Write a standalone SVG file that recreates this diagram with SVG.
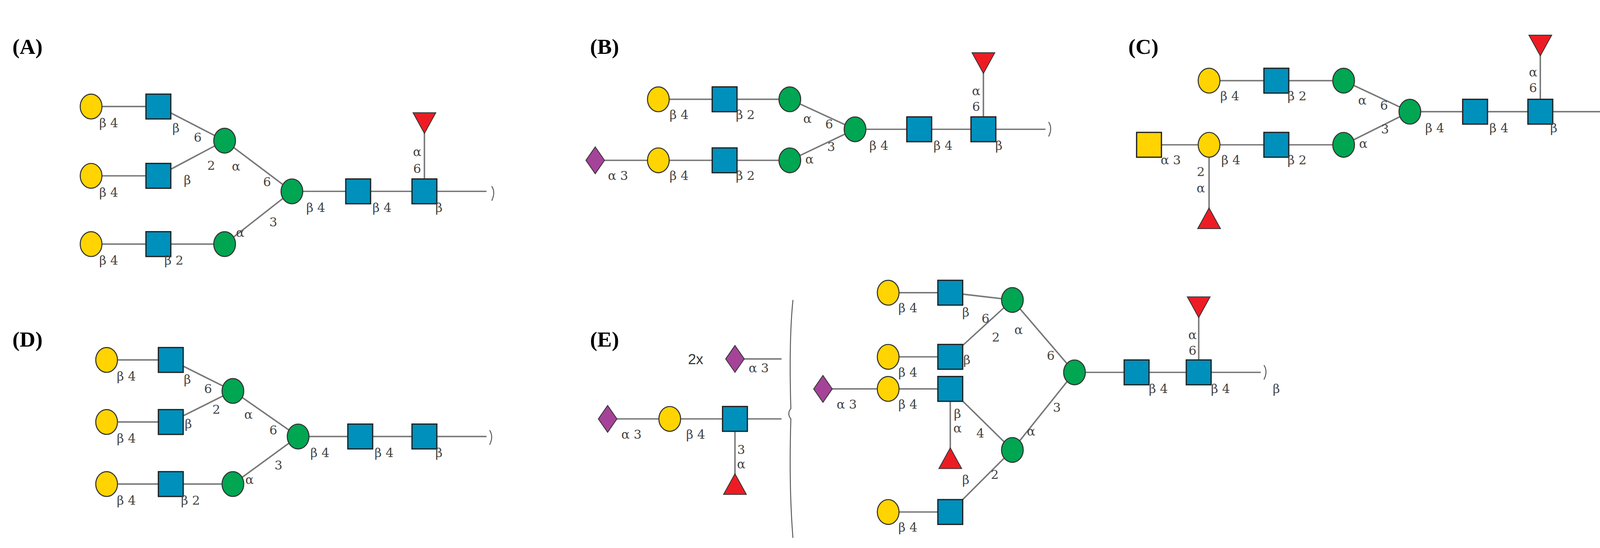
<svg xmlns="http://www.w3.org/2000/svg" xmlns:xlink="http://www.w3.org/1999/xlink" width="4155" height="1404" viewBox="0 0 4155 1404">
<style>
.l{font-family:"DejaVu Serif","Liberation Serif",serif;font-size:12px;fill:#444;text-anchor:middle}
.p{font-family:"Liberation Serif",serif;font-size:21px;font-weight:bold;fill:#000}
.c path,.c line{stroke:#777;stroke-width:1.4;fill:none}
.br{stroke:#555;stroke-width:0.9;fill:none}
</style>
<defs>
<ellipse id="gal" cx="0" cy="0" rx="10.5" ry="12" fill="#FFD400" stroke="#333" stroke-width="1"/>
<ellipse id="man" cx="0" cy="0" rx="10.5" ry="12" fill="#00A651" stroke="#333" stroke-width="1"/>
<rect id="gn" x="-12" y="-12" width="24" height="24" fill="#0090BC" stroke="#222" stroke-width="1.2"/>
<rect id="ga" x="-12" y="-12" width="24" height="24" fill="#FFD400" stroke="#222" stroke-width="1.2"/>
<polygon id="fd" points="-11,-11 11,-11 0,9" fill="#ED1C24" stroke="#333" stroke-width="0.8"/>
<polygon id="fu" points="-11,11 11,11 0,-9" fill="#ED1C24" stroke="#333" stroke-width="0.8"/>
<polygon id="na" points="0,-13 9,0 0,13 -9,0" fill="#A54399" stroke="#333" stroke-width="0.8"/>
</defs>
<rect width="4155" height="1404" fill="#fff"/>
<g transform="scale(2.65)">
<g class="c" id="connectors">
<!-- A -->
<path d="M88 103H153M88 170H153M88 236H217M153 103L217 136M153 170L217 136M217 136L282 185M217 236L282 185M282 185H470M410 185V120"/>
<!-- B -->
<path d="M636 96H763M763 96L826 125M575 155H763M763 155L826 125M826 125H1010M950 125V62"/>
<!-- C -->
<path d="M1168 78H1298M1298 78L1362 108M1110 140H1298M1298 140L1362 108M1362 108H1550M1488 108V45M1168 140V208"/>
<!-- D -->
<path d="M103 348H165M103 408H165M103 468H225M165 348L225 378M165 408L225 378M225 378L288 422M225 468L288 422M288 422H470"/>
<!-- E -->
<path d="M710 347H755M587 405H755M710 405V465"/>
<path d="M858 283H918M858 345H918M795 376H918M858 495H918M918 283L978 290M918 345L978 290M978 290L1038 360M918 376L978 435M918 495L978 435M978 435L1038 360M1038 360H1218M1158 360V298M918 376V440"/>
</g>
<path class="br" d="M475 180q4 6 0 14M1013 118q4 6 0 14M1553 101q4 6 0 14M473 416q4 6 0 14M1221 353q4 6 0 14"/>
<path class="br" d="M766 290Q762 330 764 395Q760 400 764 405Q762 470 766 520"/>
<text class="p" x="12" y="52">(A)</text>
<text class="p" x="570" y="52">(B)</text>
<text class="p" x="1090" y="52">(C)</text>
<text class="p" x="12" y="335">(D)</text>
<text class="p" x="570" y="335">(E)</text>
<!-- A nodes -->
<g id="A-gal1"><use href="#gal" x="88" y="103"/></g>
<g id="A-gal2"><use href="#gal" x="88" y="170"/></g>
<g id="A-gal3"><use href="#gal" x="88" y="236"/></g>
<g id="A-gn1"><use href="#gn" x="153" y="103"/></g>
<g id="A-gn2"><use href="#gn" x="153" y="170"/></g>
<g id="A-gn3"><use href="#gn" x="153" y="236"/></g>
<g id="A-man1"><use href="#man" x="217" y="136"/></g>
<g id="A-man2"><use href="#man" x="217" y="236"/></g>
<g id="A-man3"><use href="#man" x="282" y="185"/></g>
<g id="A-gn4"><use href="#gn" x="346" y="185"/></g>
<g id="A-gn5"><use href="#gn" x="410" y="185"/></g>
<g id="A-fuc"><use href="#fd" x="410" y="120"/></g>
<g id="A-labels">
<text class="l" x="105" y="123">β 4</text><text class="l" x="105" y="190">β 4</text><text class="l" x="105" y="256">β 4</text>
<text class="l" x="168" y="256">β 2</text>
<text class="l" x="170" y="128">β</text><text class="l" x="191" y="137">6</text>
<text class="l" x="204" y="164">2</text><text class="l" x="181" y="178">β</text>
<text class="l" x="228" y="165">α</text><text class="l" x="258" y="180">6</text>
<text class="l" x="264" y="219">3</text><text class="l" x="232" y="229">α</text>
<text class="l" x="305" y="205">β 4</text><text class="l" x="369" y="205">β 4</text><text class="l" x="424" y="205">β</text>
<text class="l" x="403" y="151">α</text><text class="l" x="403" y="167">6</text>
</g>
<!-- B nodes -->
<g id="B-gal1"><use href="#gal" x="636" y="96"/></g>
<g id="B-gn1"><use href="#gn" x="700" y="96"/></g>
<g id="B-man1"><use href="#man" x="763" y="96"/></g>
<g id="B-na"><use href="#na" x="575" y="155"/></g>
<g id="B-gal2"><use href="#gal" x="636" y="155"/></g>
<g id="B-gn2"><use href="#gn" x="700" y="155"/></g>
<g id="B-man2"><use href="#man" x="763" y="155"/></g>
<g id="B-man3"><use href="#man" x="826" y="125"/></g>
<g id="B-gn3"><use href="#gn" x="888" y="125"/></g>
<g id="B-gn4"><use href="#gn" x="950" y="125"/></g>
<g id="B-fuc"><use href="#fd" x="950" y="62"/></g>
<g id="B-labels">
<text class="l" x="656" y="115">β 4</text><text class="l" x="720" y="115">β 2</text>
<text class="l" x="780" y="119">α</text><text class="l" x="801" y="124">6</text>
<text class="l" x="597" y="174">α 3</text><text class="l" x="656" y="174">β 4</text><text class="l" x="720" y="174">β 2</text>
<text class="l" x="782" y="158">α</text><text class="l" x="803" y="146">3</text>
<text class="l" x="849" y="145">β 4</text><text class="l" x="911" y="145">β 4</text><text class="l" x="965" y="145">β</text>
<text class="l" x="943" y="92">α</text><text class="l" x="943" y="107">6</text>
</g>
<!-- C nodes -->
<g id="C-gal1"><use href="#gal" x="1168" y="78"/></g>
<g id="C-gn1"><use href="#gn" x="1233" y="78"/></g>
<g id="C-man1"><use href="#man" x="1298" y="78"/></g>
<g id="C-galnac"><use href="#ga" x="1110" y="140"/></g>
<g id="C-gal2"><use href="#gal" x="1168" y="140"/></g>
<g id="C-gn2"><use href="#gn" x="1233" y="140"/></g>
<g id="C-man2"><use href="#man" x="1298" y="140"/></g>
<g id="C-man3"><use href="#man" x="1362" y="108"/></g>
<g id="C-gn3"><use href="#gn" x="1425" y="108"/></g>
<g id="C-gn4"><use href="#gn" x="1488" y="108"/></g>
<g id="C-fuc1"><use href="#fd" x="1488" y="45"/></g>
<g id="C-fuc2"><use href="#fu" x="1168" y="210"/></g>
<g id="C-labels">
<text class="l" x="1188" y="97">β 4</text><text class="l" x="1253" y="97">β 2</text>
<text class="l" x="1316" y="101">α</text><text class="l" x="1337" y="106">6</text>
<text class="l" x="1131" y="159">α 3</text><text class="l" x="1189" y="159">β 4</text><text class="l" x="1253" y="159">β 2</text>
<text class="l" x="1317" y="143">α</text><text class="l" x="1338" y="129">3</text>
<text class="l" x="1160" y="170">2</text><text class="l" x="1160" y="186">α</text>
<text class="l" x="1386" y="128">β 4</text><text class="l" x="1448" y="128">β 4</text><text class="l" x="1501" y="128">β</text>
<text class="l" x="1481" y="74">α</text><text class="l" x="1481" y="89">6</text>
</g>
<!-- D nodes -->
<g id="D-gal1"><use href="#gal" x="103" y="348"/></g>
<g id="D-gal2"><use href="#gal" x="103" y="408"/></g>
<g id="D-gal3"><use href="#gal" x="103" y="468"/></g>
<g id="D-gn1"><use href="#gn" x="165" y="348"/></g>
<g id="D-gn2"><use href="#gn" x="165" y="408"/></g>
<g id="D-gn3"><use href="#gn" x="165" y="468"/></g>
<g id="D-man1"><use href="#man" x="225" y="378"/></g>
<g id="D-man2"><use href="#man" x="225" y="468"/></g>
<g id="D-man3"><use href="#man" x="288" y="422"/></g>
<g id="D-gn4"><use href="#gn" x="348" y="422"/></g>
<g id="D-gn5"><use href="#gn" x="410" y="422"/></g>
<g id="D-labels">
<text class="l" x="122" y="368">β 4</text><text class="l" x="122" y="428">β 4</text><text class="l" x="122" y="488">β 4</text>
<text class="l" x="184" y="488">β 2</text>
<text class="l" x="181" y="371">β</text><text class="l" x="201" y="380">6</text>
<text class="l" x="209" y="400">2</text><text class="l" x="182" y="414">β</text>
<text class="l" x="240" y="405">α</text><text class="l" x="264" y="420">6</text>
<text class="l" x="269" y="454">3</text><text class="l" x="241" y="468">α</text>
<text class="l" x="309" y="442">β 4</text><text class="l" x="371" y="442">β 4</text><text class="l" x="424" y="442">β</text>
</g>
<!-- E nodes -->
<text x="672" y="352" style="font-family:'Liberation Sans',sans-serif;font-size:14px;fill:#333;text-anchor:middle">2x</text>
<g id="E-na0"><use href="#na" x="710" y="347"/></g>
<g id="E-na1"><use href="#na" x="587" y="405"/></g>
<g id="E-gal1"><use href="#gal" x="647" y="405"/></g>
<g id="E-gn1"><use href="#gn" x="710" y="405"/></g>
<g id="E-fuc1"><use href="#fu" x="710" y="467"/></g>
<g id="E-gal2"><use href="#gal" x="858" y="283"/></g>
<g id="E-gn2"><use href="#gn" x="918" y="283"/></g>
<g id="E-gal3"><use href="#gal" x="858" y="345"/></g>
<g id="E-gn3"><use href="#gn" x="918" y="345"/></g>
<g id="E-man1"><use href="#man" x="978" y="290"/></g>
<g id="E-na2"><use href="#na" x="795" y="376"/></g>
<g id="E-gal4"><use href="#gal" x="858" y="376"/></g>
<g id="E-gn4"><use href="#gn" x="918" y="376"/></g>
<g id="E-fuc2"><use href="#fu" x="918" y="442"/></g>
<g id="E-man2"><use href="#man" x="978" y="435"/></g>
<g id="E-gal5"><use href="#gal" x="858" y="495"/></g>
<g id="E-gn5"><use href="#gn" x="918" y="495"/></g>
<g id="E-man3"><use href="#man" x="1038" y="360"/></g>
<g id="E-gn6"><use href="#gn" x="1098" y="360"/></g>
<g id="E-gn7"><use href="#gn" x="1158" y="360"/></g>
<g id="E-fuc3"><use href="#fd" x="1158" y="298"/></g>
<g id="E-labels">
<text class="l" x="733" y="360">α 3</text>
<text class="l" x="610" y="424">α 3</text><text class="l" x="672" y="424">β 4</text>
<text class="l" x="716" y="439">3</text><text class="l" x="716" y="453">α</text>
<text class="l" x="877" y="302">β 4</text><text class="l" x="877" y="364">β 4</text><text class="l" x="877" y="395">β 4</text><text class="l" x="877" y="514">β 4</text>
<text class="l" x="818" y="395">α 3</text>
<text class="l" x="933" y="306">β</text><text class="l" x="952" y="312">6</text>
<text class="l" x="962" y="330">2</text><text class="l" x="934" y="352">β</text>
<text class="l" x="984" y="323">α</text><text class="l" x="1015" y="348">6</text>
<text class="l" x="1021" y="398">3</text><text class="l" x="996" y="421">α</text>
<text class="l" x="947" y="423">4</text><text class="l" x="961" y="463">2</text><text class="l" x="933" y="468">β</text>
<text class="l" x="925" y="404">β</text><text class="l" x="925" y="418">α</text>
<text class="l" x="1119" y="380">β 4</text><text class="l" x="1179" y="380">β 4</text><text class="l" x="1233" y="380">β</text>
<text class="l" x="1152" y="328">α</text><text class="l" x="1152" y="343">6</text>
</g>
</g>
</svg>
